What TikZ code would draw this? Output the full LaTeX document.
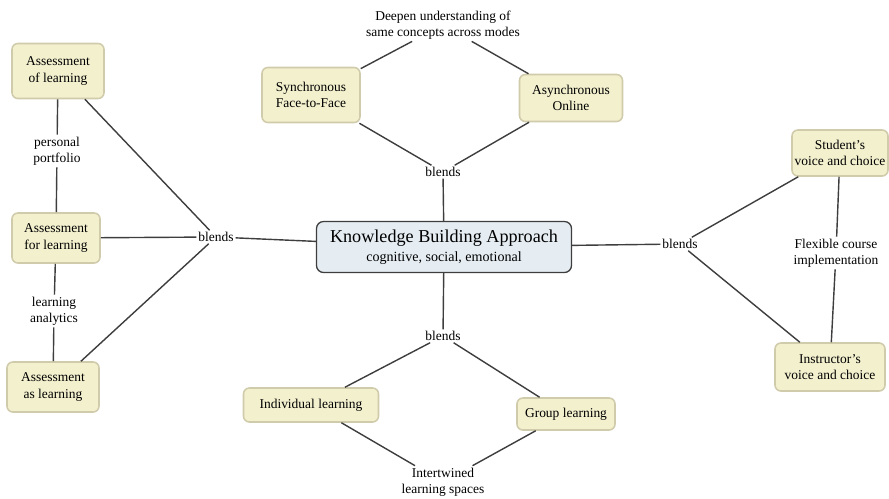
\documentclass[tikz,border=0pt]{standalone}
\usepackage{fontspec}
\setmainfont{Liberation Serif}
\usetikzlibrary{positioning}

\definecolor{cmapfill}{RGB}{243,240,206}
\definecolor{cmapline}{RGB}{208,203,170}
\definecolor{kbafill}{RGB}{229,237,243}
\definecolor{linkgray}{RGB}{62,62,62}

\begin{document}
\begin{tikzpicture}[
    x=0.03cm, y=-0.03cm,
    concept/.style={rectangle, draw=cmapline, line width=1.3pt, fill=cmapfill, rounded corners=5pt, align=center, inner sep=2pt, font=\fontsize{11.5}{14}\selectfont},
    central/.style={rectangle, draw=linkgray, line width=1.1pt, fill=kbafill, rounded corners=6pt, align=center, inner sep=2pt, font=\fontsize{15.5}{17}\selectfont},
    lbl/.style={align=center, inner sep=1.5pt, font=\fontsize{11.5}{14}\selectfont},
    link/.style={draw=linkgray, line width=1.2pt},
]
\useasboundingbox (0,0) rectangle (889,498);

% ========== CENTRE ==========
\node[central, minimum width=7.65cm, minimum height=1.53cm] (kba) at (444,247)
    {Knowledge Building Approach\\[-1pt]{\fontsize{12}{14}\selectfont cognitive, social, emotional}};

% ========== LEFT (assessment) ==========
\node[concept, minimum width=2.76cm, minimum height=1.65cm] (aol) at (58,71) {Assessment\\of learning};
\node[concept, minimum width=2.64cm, minimum height=1.5cm] (afl) at (56,238) {Assessment\\for learning};
\node[concept, minimum width=2.76cm, minimum height=1.5cm] (asl) at (53,387) {Assessment\\as learning};
\node[lbl] (port) at (57,151) {personal\\portfolio};
\node[lbl] (anly) at (54,311) {learning\\analytics};
\node[lbl] (bl) at (216,237) {blends};

% ========== TOP (modes) ==========
\node[concept, minimum width=2.94cm, minimum height=1.65cm] (sync) at (311,95) {Synchronous\\Face-to-Face};
\node[concept, minimum width=3.09cm, minimum height=1.41cm] (async) at (571,98) {Asynchronous\\Online};
\node[lbl] (deep) at (443,25) {Deepen understanding of\\same concepts across modes};
\node[lbl] (bt) at (443,172) {blends};

% ========== RIGHT (voice and choice) ==========
\node[concept, minimum width=2.88cm, minimum height=1.38cm] (stud) at (840,153) {Student's\\voice and choice};
\node[concept, minimum width=3.3cm, minimum height=1.44cm] (instr) at (830,367) {Instructor's\\voice and choice};
\node[lbl] (flex) at (836,253) {Flexible course\\implementation};
\node[lbl] (br) at (680,244) {blends};

% ========== BOTTOM (learning spaces) ==========
\node[concept, minimum width=4.05cm, minimum height=1.02cm] (indiv) at (311,405) {Individual learning};
\node[concept, minimum width=2.94cm, minimum height=0.96cm] (group) at (566,414) {Group learning};
\node[lbl] (inter) at (443,482) {Intertwined\\learning spaces};
\node[lbl] (bb) at (443,336) {blends};

% ========== LINKS ==========
\draw[link] (aol) -- (port);
\draw[link] (port) -- (afl);
\draw[link] (afl) -- (anly);
\draw[link] (anly) -- (asl);
\draw[link] (aol) -- (bl);
\draw[link] (afl) -- (bl);
\draw[link] (asl) -- (bl);
\draw[link] (bl) -- (kba);

\draw[link] (sync) -- (deep);
\draw[link] (async) -- (deep);
\draw[link] (sync) -- (bt);
\draw[link] (async) -- (bt);
\draw[link] (bt) -- (kba);

\draw[link] (kba) -- (br);
\draw[link] (br) -- (stud);
\draw[link] (br) -- (instr);
\draw[link] (stud) -- (flex);
\draw[link] (flex) -- (instr);

\draw[link] (kba) -- (bb);
\draw[link] (bb) -- (indiv);
\draw[link] (bb) -- (group);
\draw[link] (indiv) -- (inter);
\draw[link] (group) -- (inter);

\end{tikzpicture}
\end{document}
